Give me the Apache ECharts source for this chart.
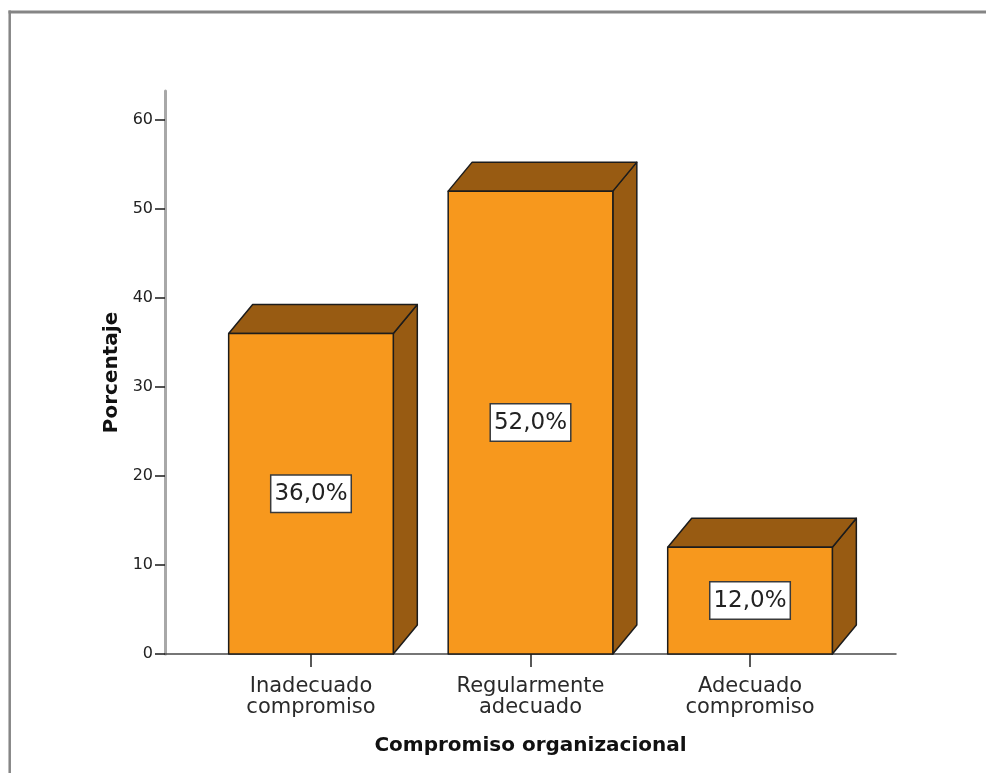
<!DOCTYPE html>
<html>
<head>
<meta charset="utf-8">
<title>Compromiso organizacional</title>
<script src="https://cdn.jsdelivr.net/npm/echarts@6/dist/echarts.min.js"></script>
<style>
  html, body { margin: 0; padding: 0; background: #ffffff; }
  #chart { width: 986px; height: 773px; }
</style>
</head>
<body>
<div id="chart"></div>
<script>
// Categories of the variable and their percentages
const categories = ['Inadecuado\ncompromiso', 'Regularmente\nadecuado', 'Adecuado\ncompromiso'];
const percentages = [36.0, 52.0, 12.0];
const yTicks = [0, 10, 20, 30, 40, 50, 60];
const xTicks = [0, 1, 2];

// 3D bar look
const BAR_WIDTH = 0.75;          // in category units
const DEPTH_X = 24, DEPTH_Y = -29; // pixel offset of the back face
const FRONT = '#f7981d';
const SHADE = '#985b12';
const EDGE = '#1c1c1c';

const fmtPct = v => v.toFixed(1).replace('.', ',') + '%';

const chart = echarts.init(document.getElementById('chart'), null, { renderer: 'canvas' });

function renderBar(params, api) {
  const x = api.value(0);
  const v = api.value(1);
  const base = api.coord([x, 0]);
  const top = api.coord([x, v]);
  const w = api.size([BAR_WIDTH, 0])[0];
  const l = base[0] - w / 2, r = base[0] + w / 2;
  const yb = base[1], yt = top[1];
  const edge = { stroke: EDGE, lineWidth: 1.5, lineJoin: 'round' };
  return {
    type: 'group',
    children: [
      { // right side face
        type: 'polygon',
        shape: { points: [[r, yb], [r + DEPTH_X, yb + DEPTH_Y], [r + DEPTH_X, yt + DEPTH_Y], [r, yt]] },
        style: Object.assign({ fill: SHADE }, edge)
      },
      { // top face
        type: 'polygon',
        shape: { points: [[l, yt], [l + DEPTH_X, yt + DEPTH_Y], [r + DEPTH_X, yt + DEPTH_Y], [r, yt]] },
        style: Object.assign({ fill: SHADE }, edge)
      },
      { // front face with boxed value label
        type: 'rect',
        shape: { x: l, y: yt, width: w, height: yb - yt },
        style: Object.assign({ fill: FRONT }, edge),
        textContent: {
          style: {
            text: fmtPct(v),
            fontFamily: 'DejaVu Sans',
            fontSize: 23,
            fill: '#222222',
            backgroundColor: '#ffffff',
            borderColor: '#3a3a3a',
            borderWidth: 1.5,
            padding: [7, 3, 6, 3]
          }
        },
        textConfig: { position: 'inside' }
      }
    ]
  };
}

const option = {
  animation: false,
  backgroundColor: '#ffffff',
  grid: { left: 165, right: 90, top: 91, bottom: 119, containLabel: false },
  xAxis: {
    type: 'value',
    min: -0.665,
    max: 2.665,
    name: 'Compromiso organizacional',
    nameLocation: 'middle',
    nameGap: 82,
    nameTextStyle: { fontFamily: 'DejaVu Sans', fontWeight: 'bold', fontSize: 20, color: '#111111' },
    splitLine: { show: false },
    axisLine: { show: true, onZero: false, lineStyle: { color: '#4a4a4a', width: 1.5 } },
    axisTick: { show: true, customValues: xTicks, length: 13, lineStyle: { color: '#222222', width: 1.5 } },
    axisLabel: {
      customValues: xTicks,
      formatter: v => categories[Math.round(v)] || '',
      fontFamily: 'DejaVu Sans',
      fontSize: 21,
      lineHeight: 21,
      color: '#2a2a2a',
      margin: 22
    }
  },
  yAxis: {
    type: 'value',
    min: 0,
    max: 63.25,
    name: 'Porcentaje',
    nameLocation: 'middle',
    nameGap: 43,
    nameRotate: 90,
    nameTextStyle: { fontFamily: 'DejaVu Sans', fontWeight: 'bold', fontSize: 20, color: '#111111' },
    splitLine: { show: false },
    axisLine: { show: true, onZero: false, lineStyle: { color: '#a8a8a8', width: 3 } },
    axisTick: { show: true, customValues: yTicks, length: 10, lineStyle: { color: '#1a1a1a', width: 1.5 } },
    axisLabel: {
      customValues: yTicks,
      fontFamily: 'DejaVu Sans',
      fontSize: 16,
      color: '#222222',
      margin: 12
    }
  },
  graphic: [
    { type: 'line', z: 100, shape: { x1: 8.5, y1: 12, x2: 986, y2: 12 }, style: { stroke: '#858585', lineWidth: 3 } },
    { type: 'line', z: 100, shape: { x1: 9.7, y1: 10.5, x2: 9.7, y2: 773 }, style: { stroke: '#858585', lineWidth: 2.5 } }
  ],
  series: [{
    type: 'custom',
    renderItem: renderBar,
    clip: false,
    encode: { x: 0, y: 1 },
    data: percentages.map((p, i) => [i, p])
  }]
};

chart.setOption(option);
</script>
</body>
</html>
